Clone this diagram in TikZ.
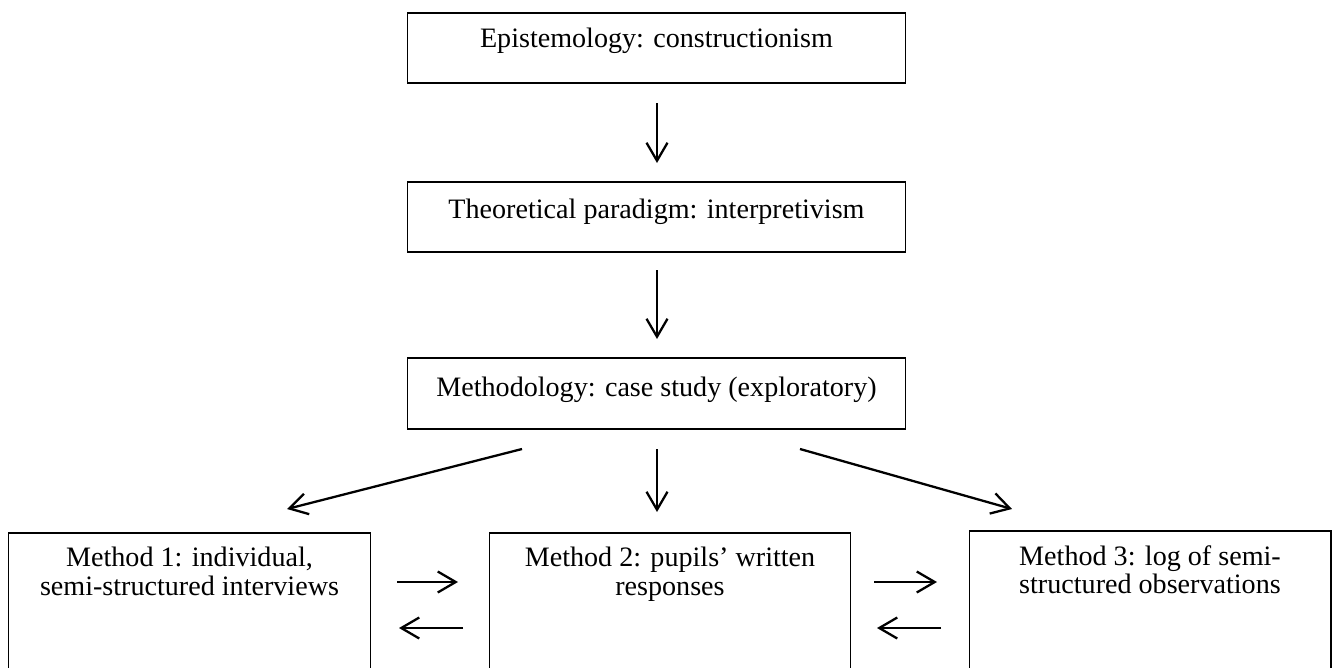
\documentclass[tikz,border=0pt]{standalone}
\usepackage{fontspec}
\setmainfont{Liberation Serif}
\usetikzlibrary{arrows.meta}
\begin{document}
\begin{tikzpicture}[x=0.02cm,y=-0.02cm,
  box/.style={draw, line width=0.6pt, inner sep=0pt},
  lbl/.style={inner sep=0pt, align=center, font=\fontsize{16}{16.3}\selectfont},
  arr/.style={line width=1.3pt, -{Straight Barb[length=0.36cm,width=0.42cm,line width=1.3pt]}}]
\useasboundingbox (0,0) rectangle (1336,667);
\clip (0,0) rectangle (1336,667);
% boxes
\node[box, minimum width=9.98cm, minimum height=1.4cm] (b1) at (656.5,48) {};
\node[box, minimum width=9.98cm, minimum height=1.4cm] (b2) at (656.5,217) {};
\node[box, minimum width=9.98cm, minimum height=1.42cm] (b3) at (656.5,393.5) {};
\node[box, minimum width=7.26cm, minimum height=2.78cm] (b4) at (189.5,602.5) {};
\node[box, minimum width=7.24cm, minimum height=2.78cm] (b5) at (670,602.5) {};
\node[box, minimum width=7.24cm, minimum height=2.82cm] (b6) at (1150,601.5) {};
% texts
\node[lbl, anchor=base] (t1) at (656.5,47) {Epistemology: constructionism};
\node[lbl, anchor=base] (t2) at (656.5,218) {Theoretical paradigm: interpretivism};
\node[lbl, anchor=base] (t3) at (656.5,396) {Methodology: case study (exploratory)};
\node[lbl, anchor=north] (t4) at (189.5,547) {Method 1: individual,\\semi-structured interviews};
\node[lbl, anchor=north] (t5) at (670,547) {Method 2: pupils’ written\\responses};
\node[lbl, anchor=north] (t6) at (1150,545) {Method 3: log of semi-\\structured observations};
% connector ends
\coordinate (a1s) at (657,103); \coordinate (a1e) at (657,163);
\coordinate (a2s) at (657,270); \coordinate (a2e) at (657,339);
\coordinate (a3s) at (657,449); \coordinate (a3e) at (657,512);
\coordinate (a4s) at (522,449); \coordinate (a4e) at (287,509);
\coordinate (a5s) at (800,449); \coordinate (a5e) at (1012,509);
\coordinate (h1s) at (397,582); \coordinate (h1e) at (458,582);
\coordinate (h2s) at (463,628); \coordinate (h2e) at (399,628);
\coordinate (h3s) at (874,582); \coordinate (h3e) at (937,582);
\coordinate (h4s) at (941,628); \coordinate (h4e) at (877,628);
\draw[arr] (a1s) -- (a1e);
\draw[arr] (a2s) -- (a2e);
\draw[arr] (a3s) -- (a3e);
\draw[arr] (a4s) -- (a4e);
\draw[arr] (a5s) -- (a5e);
\draw[arr] (h1s) -- (h1e);
\draw[arr] (h2s) -- (h2e);
\draw[arr] (h3s) -- (h3e);
\draw[arr] (h4s) -- (h4e);
\end{tikzpicture}
\end{document}
